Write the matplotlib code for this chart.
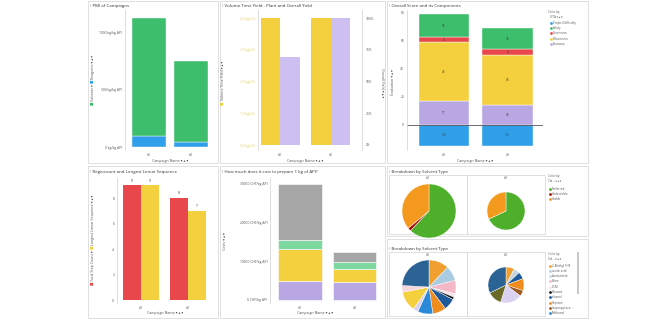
import matplotlib
matplotlib.use('Agg')
import matplotlib.pyplot as plt
from matplotlib.patches import Rectangle

W, H = 670, 320
plt.rcParams['font.family'] = ['Open Sans', 'DejaVu Sans']

# ---------------- data ----------------
campaigns = ['#1', '#2']
pmi_reagents = [95, 40]
pmi_solvents = [1035, 715]
pmi_ticks = [0, 500, 1000]

vty = [4.0, 4.0]
vty_ticks = [0, 1, 2, 3, 4]
overall_yield = [69, 100]
yield_ticks = [0, 25, 50, 75, 100]

score_names = ['Project Difficulty', 'Safety', 'Greenness', 'Robustness', 'Economy']
score_difficulty = [-15, -15]
score_economy = [17, 14]
score_robustness = [42, 36]
score_greenness = [4, 4]
score_safety = [16, 15]
score_ticks = [0, 20, 40, 60, 80]

step_count = [9, 8]
longest_linear = [9, 7]
step_ticks = [0, 2, 4, 6, 8]

cost_a = [4900, 4600]
cost_b = [8400, 3400]
cost_c = [2100, 1800]
cost_d = [14600, 2500]
cost_ticks = [0, 10000, 20000, 30000]

class_names = ['Preferred', 'Undesirable', 'Usable']
class_c1 = [62, 2, 36]
class_c2 = [68, 0, 32]

solvent_names = ['2-Methyl THF', 'acetic acid', 'Acetonitrile', 'Brine', 'DCM', 'Dioxane',
                 'ethanol', 'Heptane', 'Isopropyl ace...', 'Methanol',
                 'n-Butanol', 'MIBK', 'Toluene', 'Water', 'THF']
solvent_c1 = [12, 9, 0, 8, 2, 1.5, 7, 8, 0, 9, 3, 0, 12, 4, 24]
solvent_c2 = [7, 0, 5, 0, 0, 0, 6, 10, 5, 0, 18, 12, 0, 0, 30]

# ---------------- styles ----------------
C_GREEN = '#3DBE6C'
C_BLUE = '#2E9FE8'
C_YELLOW = '#F4D03F'
C_PURPLE = '#B9A7E3'
C_PURPLE_L = '#CDBFEF'
C_RED = '#E8474B'
C_GRAY = '#A6A6A6'
C_MINT = '#7DD8A0'
TXT = '#555555'
class_colors = ['#4DAF2A', '#A01010', '#F39A1E']
solvent_colors = ['#F0A030', '#A9CCE3', '#C8D4E0', '#F4B8C8', '#F3E3EA', '#1B1B1B',
                  '#1E5A9A', '#F08C1E', '#9A5A20', '#2A8AD8',
                  '#D9D2F0', '#6B6A2A', '#F4D03F', '#F7D5DC', '#2B6394']

fig = plt.figure(figsize=(6.7, 3.2), dpi=100)
ax0 = fig.add_axes([0, 0, 1, 1], zorder=-1)
ax0.set_xlim(0, W)
ax0.set_ylim(H, 0)
ax0.axis('off')


def R(x0, y0, x1, y1):
    return [x0 / W, 1 - y1 / H, (x1 - x0) / W, (y1 - y0) / H]


def frame(x0, y0, x1, y1):
    ax0.add_patch(Rectangle((x0, y0), x1 - x0, y1 - y0, fill=False, ec='#DADADA', lw=0.6))


def txt(x, y, s, fs=2.6, c=TXT, **kw):
    ax0.text(x, y, s, fontsize=fs, color=c, va='center', **kw)


def vlabel(x, yc, pieces, fs=2.6, rot=90):
    texts = [ax0.text(x, 0, s, color=c, fontsize=fs, rotation=rot, ha='center',
                      va='bottom' if rot == 90 else 'top') for s, c in pieces]
    r = fig.canvas.get_renderer()
    hs = [t.get_window_extent(r).height for t in texts]
    tot = sum(hs)
    if rot == 90:
        y = yc + tot / 2
        for t, h in zip(texts, hs):
            t.set_y(y)
            y -= h
    else:
        y = yc - tot / 2
        for t, h in zip(texts, hs):
            t.set_y(y)
            y += h


def style(ax, fs=2.4):
    for s in ['top', 'right']:
        ax.spines[s].set_visible(False)
    for s in ['left', 'bottom']:
        ax.spines[s].set_color('#D0D0D0')
        ax.spines[s].set_linewidth(0.5)
    ax.tick_params(length=0, labelsize=fs, colors=TXT, pad=2)
    ax.set_facecolor('white')


ARR = ' \u25be \u25b4 \u25be'

# frames
frame(88, 1, 218, 163)
frame(220, 1, 385, 163)
frame(387, 1, 588, 163)
frame(88, 166, 218, 318)
frame(220, 166, 385, 318)
frame(387, 166, 588, 236)
frame(387, 239, 588, 318)

TFS = 3.2
txt(90, 6, '\u205d PMI of Campaigns', TFS, '#333333')
txt(222, 6, '\u205d Volume Time Yield - Plant and Overall Yield', TFS, '#333333')
txt(389, 6, '\u205d Overall Score and its Components', TFS, '#333333')
txt(90, 172, '\u205d Regiocount and Longest Linear Sequence', TFS, '#333333')
txt(222, 172, '\u205d How much does it cost to prepare 1 kg of API?', TFS, '#333333')
txt(389, 172, '\u205d Breakdown by Solvent Type', TFS, '#333333')
txt(389, 249, '\u205d Breakdown by Solvent Type', TFS, '#333333')

# ---------------- PMI ----------------
ax = fig.add_axes(R(125, 10, 216, 150))
style(ax)
x = [0, 1]
ax.bar(x, pmi_reagents, 0.81, color=C_BLUE, edgecolor='white', lw=0.3)
ax.bar(x, pmi_solvents, 0.81, bottom=pmi_reagents, color=C_GREEN, edgecolor='white', lw=0.3)
ax.set_xlim(-0.571, 1.595)
ax.set_ylim(-26, 1200)
ax.set_xticks(x, campaigns)
ax.set_yticks(pmi_ticks, [f'{v} kg/kg API' for v in pmi_ticks])
ax.spines['bottom'].set_visible(False)
txt(170, 161, 'Campaign Name' + ARR, 2.6, ha='center')
vlabel(93, 80, [('\u25a0 ', C_GREEN), ('Solvents \u25be ', TXT), ('\u25a0 ', C_BLUE), ('Reagents' + ARR, TXT)])

# ---------------- VTY ----------------
ax = fig.add_axes(R(258, 10, 362, 150))
style(ax)
ax.spines['right'].set_visible(True)
ax.spines['right'].set_color('#D0D0D0')
ax.spines['right'].set_linewidth(0.5)
ax.spines['bottom'].set_visible(False)
ax.bar([v - 0.193 for v in x], vty, 0.386, color=C_YELLOW)
ax.set_xlim(-0.436, 1.62)
ax.set_ylim(-0.157, 4.252)
ax.set_xticks(x, campaigns)
ax.set_yticks(vty_ticks, [f'{v:.1f} kg/L/h' for v in vty_ticks])
ax.tick_params(axis='y', colors='#E6CF6A')
ax.tick_params(axis='x', colors=TXT)
ax2 = ax.twinx()
for s in ax2.spines.values():
    s.set_visible(False)
ax2.bar([v + 0.193 for v in x], overall_yield, 0.386, color=C_PURPLE_L)
ax2.set_ylim(-3.94, 106.3)
ax2.set_yticks(yield_ticks, [f'{v}%' for v in yield_ticks])
ax2.tick_params(length=0, labelsize=2.4, colors=TXT, pad=3)
txt(305, 161, 'Campaign Name' + ARR, 2.6, ha='center')
vlabel(223, 83, [('\u25a0 ', C_YELLOW), ('Volume Time Yield' + ARR, TXT)])
vlabel(382, 83, [('Overall Yield' + ARR, TXT)], rot=270)

# ---------------- Overall score ----------------
ax = fig.add_axes(R(407, 10, 543, 150))
style(ax)
ax.spines['bottom'].set_visible(False)
w = 0.79
segs = [(score_economy, C_PURPLE), (score_robustness, C_YELLOW),
        (score_greenness, C_RED), (score_safety, C_GREEN)]
ax.bar(x, score_difficulty, w, color=C_BLUE, edgecolor='white', lw=0.3)
for i, v in enumerate(score_difficulty):
    ax.text(x[i], v / 2, str(v), ha='center', va='center', fontsize=2.2, color='#333')
bottom = [0, 0]
for vals, col in segs:
    ax.bar(x, vals, w, bottom=bottom, color=col, edgecolor='white', lw=0.3)
    for i, v in enumerate(vals):
        ax.text(x[i], bottom[i] + v / 2, str(v), ha='center', va='center', fontsize=2.2, color='#333')
    bottom = [b + v for b, v in zip(bottom, vals)]
ax.axhline(0, color='#555555', lw=0.6)
ax.set_xlim(-0.58, 1.56)
ax.set_ylim(-17.9, 82.1)
ax.set_xticks(x, campaigns)
ax.set_yticks(score_ticks)
txt(475, 161, 'Campaign Name' + ARR, 2.6, ha='center')
vlabel(393, 82, [('Evaluation' + ARR, TXT)])
txt(548, 12, 'Color by:', 2.2)
txt(550, 16.5, 'UTA' + ARR, 2.2)
leg_cols = [C_BLUE, C_GREEN, C_RED, C_YELLOW, C_PURPLE]
for i, (n, c) in enumerate(zip(score_names, leg_cols)):
    yy = 22.6 + i * 5.4
    ax0.scatter([550.5], [yy], s=4, color=c, lw=0)
    txt(553, yy, n, 2.2)

# ---------------- Step count ----------------
ax = fig.add_axes(R(117, 178, 212, 303))
style(ax)
ax.spines['bottom'].set_visible(False)
ax.bar([v - 0.195 for v in x], step_count, 0.39, color=C_RED)
ax.bar([v + 0.195 for v in x], longest_linear, 0.39, color=C_YELLOW)
for i in range(2):
    ax.text(x[i] - 0.195, step_count[i] + 0.2, str(step_count[i]), ha='center', va='bottom', fontsize=2.4, color='#333')
    ax.text(x[i] + 0.195, longest_linear[i] + 0.2, str(longest_linear[i]), ha='center', va='bottom', fontsize=2.4, color='#333')
ax.set_xlim(-0.51, 1.51)
ax.set_ylim(-0.235, 9.57)
ax.set_xticks(x, campaigns)
ax.set_yticks(step_ticks)
txt(165, 313, 'Campaign Name' + ARR, 2.6, ha='center')
vlabel(93, 240, [('\u25a0 ', C_RED), ('Total Step Count \u25be ', TXT), ('\u25a0 ', C_YELLOW),
                 ('Longest Linear Sequence' + ARR, TXT)])

# ---------------- Cost ----------------
ax = fig.add_axes(R(270, 177, 382, 303))
style(ax)
ax.spines['bottom'].set_visible(False)
bottom = [0, 0]
for vals, col in [(cost_a, C_PURPLE), (cost_b, C_YELLOW), (cost_c, C_MINT), (cost_d, C_GRAY)]:
    ax.bar(x, vals, 0.8, bottom=bottom, color=col, edgecolor='white', lw=0.4)
    bottom = [b + v for b, v in zip(bottom, vals)]
ax.set_xlim(-0.55, 1.505)
ax.set_ylim(-776, 31810)
ax.set_xticks(x, campaigns)
ax.set_yticks(cost_ticks, [f'{v} CHF/kg API' for v in cost_ticks])
txt(315, 313, 'Campaign Name' + ARR, 2.6, ha='center')
vlabel(225, 241, [('Costs' + ARR, TXT)])


# ---------------- Pies ----------------
def pie_at(cx, cy, r, vals, cols):
    pad = 2
    a = fig.add_axes(R(cx - r - pad, cy - r - pad, cx + r + pad, cy + r + pad))
    vv = [(v, c) for v, c in zip(vals, cols) if v > 0]
    a.pie([v for v, _ in vv], colors=[c for _, c in vv], radius=r, startangle=90,
          counterclock=False, wedgeprops=dict(edgecolor='white', linewidth=0.3))
    a.set_xlim(-r - pad, r + pad)
    a.set_ylim(-r - pad, r + pad)
    a.set_aspect('equal')
    a.axis('off')


def pie_panel(y0, y1, yhead):
    frame(389, yhead - 3, 467, y1)
    frame(467, yhead - 3, 545, y1)
    txt(428, yhead, '#1', 2.4, ha='center')
    txt(506, yhead, '#2', 2.4, ha='center')


pie_panel(175, 234, 178)
pie_at(429, 211, 27, class_c1, class_colors)
pie_at(506, 211, 19, class_c2, class_colors)
txt(548, 176, 'Color by:', 2.2)
txt(548, 181, 'Cla...' + ARR, 2.2)
for i, (n, c) in enumerate(zip(class_names, class_colors)):
    yy = 189 + i * 5.2
    ax0.scatter([549.5], [yy], s=4, color=c, lw=0)
    txt(552, yy, n, 2.2)

pie_panel(252, 316, 254.5)
pie_at(429, 287, 27, solvent_c1, solvent_colors)
pie_at(506, 285, 18, solvent_c2, solvent_colors)
txt(548, 254, 'Color by:', 2.2)
txt(548, 259, 'Sol...' + ARR, 2.2)
for i in range(10):
    yy = 265.5 + i * 5.3
    ax0.scatter([549.5], [yy], s=4, color=solvent_colors[i], lw=0)
    txt(552, yy, solvent_names[i], 2.2)
ax0.add_patch(Rectangle((577, 252), 2, 42, color='#C8C8C8', lw=0))

fig.savefig('out.png', dpi=100, facecolor='white')
